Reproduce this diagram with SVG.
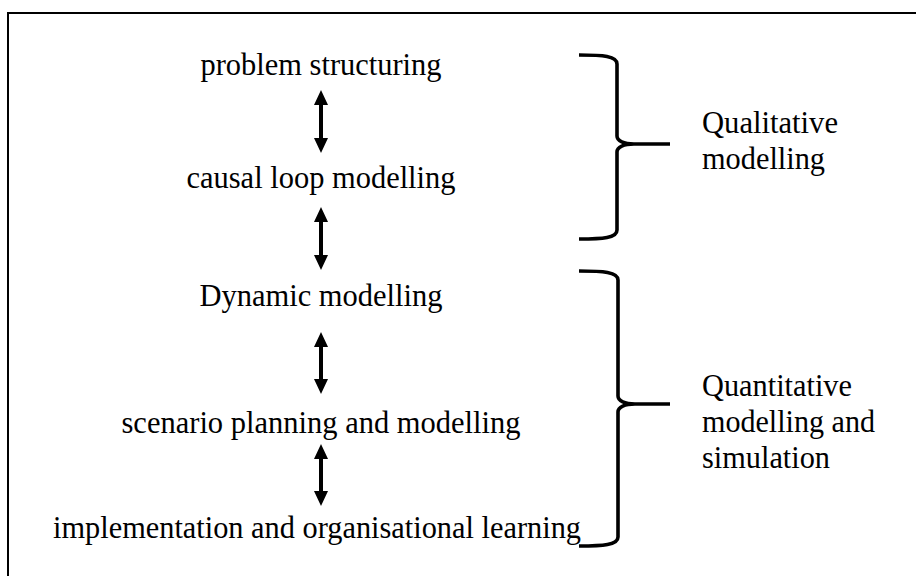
<svg xmlns="http://www.w3.org/2000/svg" width="916" height="576" viewBox="0 0 916 576">
  <defs>
    <style>
      .lbl { font-family: "Liberation Serif", "Times New Roman", serif; font-size: 32px; fill: #000; }
      .mid { text-anchor: middle; }
      .arrow { stroke: #000; stroke-width: 4; fill: none; }
      .brace { stroke: #000; stroke-width: 3.6; fill: none; stroke-linecap: butt; stroke-linejoin: round; }
    </style>
    <marker id="head" viewBox="0 0 15 14" markerWidth="15" markerHeight="14" refX="3" refY="7" orient="auto-start-reverse" markerUnits="userSpaceOnUse">
      <path d="M0,0 L15,7 L0,14 Z" fill="#000"/>
    </marker>
  </defs>

  <rect width="916" height="576" fill="#fff"/>
  <!-- frame: only top and left edges fall inside the canvas -->
  <rect x="8" y="13" width="930" height="590" fill="none" stroke="#000" stroke-width="2"/>

  <!-- process steps -->
  <g id="problem-structuring">
    <text class="lbl mid" x="321" y="75" textLength="241" lengthAdjust="spacingAndGlyphs">problem structuring</text>
  </g>
  <g id="causal-loop-modelling">
    <text class="lbl mid" x="321" y="188" textLength="269" lengthAdjust="spacingAndGlyphs">causal loop modelling</text>
  </g>
  <g id="dynamic-modelling">
    <text class="lbl mid" x="321" y="306" textLength="243" lengthAdjust="spacingAndGlyphs">Dynamic modelling</text>
  </g>
  <g id="scenario-planning">
    <text class="lbl mid" x="321" y="433" textLength="399" lengthAdjust="spacingAndGlyphs">scenario planning and modelling</text>
  </g>
  <g id="implementation">
    <text class="lbl mid" x="317" y="538" textLength="528" lengthAdjust="spacingAndGlyphs">implementation and organisational learning</text>
  </g>

  <!-- phase labels -->
  <g id="qualitative">
    <path class="brace" d="M579,55 C603,55 617,56 617,64 L617,136 C617,141 624,144 634,144 L670,144 M634,144 C624,144 617,147 617,152 L617,230 C617,238 603,239 579,239"/>
    <text class="lbl" x="702" y="133" textLength="136" lengthAdjust="spacingAndGlyphs">Qualitative</text>
    <text class="lbl" x="702" y="169" textLength="123" lengthAdjust="spacingAndGlyphs">modelling</text>
  </g>
  <g id="quantitative">
    <path class="brace" d="M579,271 C603,271 618,272 618,280 L618,396 C618,401 625,404 635,404 L670,404 M635,404 C625,404 618,407 618,412 L618,537 C618,545 603,546 579,546"/>
    <text class="lbl" x="702" y="396" textLength="150" lengthAdjust="spacingAndGlyphs">Quantitative</text>
    <text class="lbl" x="702" y="432" textLength="173" lengthAdjust="spacingAndGlyphs">modelling and</text>
    <text class="lbl" x="702" y="468" textLength="128" lengthAdjust="spacingAndGlyphs">simulation</text>
  </g>

  <!-- two-way links between steps -->
  <g id="connectors">
    <line class="arrow" x1="321" y1="102" x2="321" y2="141" marker-start="url(#head)" marker-end="url(#head)"/>
    <line class="arrow" x1="321" y1="219" x2="321" y2="258" marker-start="url(#head)" marker-end="url(#head)"/>
    <line class="arrow" x1="321" y1="344" x2="321" y2="382" marker-start="url(#head)" marker-end="url(#head)"/>
    <line class="arrow" x1="321" y1="456" x2="321" y2="494" marker-start="url(#head)" marker-end="url(#head)"/>
  </g>
</svg>
